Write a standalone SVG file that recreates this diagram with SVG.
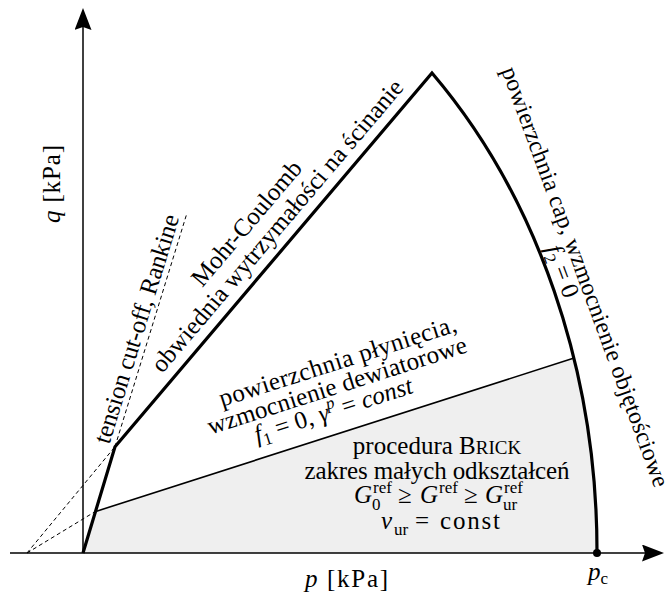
<svg xmlns="http://www.w3.org/2000/svg" width="668" height="602" viewBox="0 0 668 602" font-family="Liberation Serif, serif">
<style>
text{font-family:'Liberation Serif','DejaVu Serif',serif;font-size:25px;fill:#000}
.it{font-style:italic}
.sc{font-size:17px}
.ax{stroke:#000;stroke-width:1.5;fill:none}
.thick{stroke:#000;stroke-width:3.2;fill:none;stroke-linejoin:miter}
.thin{stroke:#000;stroke-width:1.6;fill:none}
.dash{stroke:#000;stroke-width:1;fill:none;stroke-dasharray:4 3}
</style>
<defs>
<marker id="arr" markerUnits="userSpaceOnUse" markerWidth="22" markerHeight="18" refX="3" refY="8.5" orient="auto">
<path d="M0,0 L22,8.5 L0,17 L3,8.5 z" fill="#000"/>
</marker>
</defs>
<rect width="668" height="602" fill="#fff"/>
<g id="region">
<path d="M83,553 L95,511.7 L573.3,358.3 A514,652 0 0 1 597,553 Z" fill="#efefef"/>
</g>
<g id="connectors">
<path class="ax" d="M10,553 L645,553" marker-end="url(#arr)"/>
<path class="ax" d="M83,553 L83,27" marker-end="url(#arr)"/>
<path class="dash" d="M27,553 L115,446.7"/>
<path class="dash" d="M27,553 L95,511.7"/>
<path class="dash" d="M115,446.7 L187,213"/>
<path class="thin" d="M95,511.7 L573.3,358.3"/>
<path class="thick" d="M83,553 L115,446.7 L432,73 A514,652 0 0 1 597,553"/>
</g>
<g id="pc">
<circle cx="597" cy="553" r="4" fill="#000"/>
<text x="588" y="580"><tspan class="it">p</tspan><tspan class="sc" dy="4">c</tspan></text>
</g>
<g id="axis-labels">
<text x="305" y="587" textLength="83"><tspan class="it">p</tspan> [kPa]</text>
<text transform="translate(60,184) rotate(-90)" text-anchor="middle" textLength="78"><tspan class="it">q</tspan> [kPa]</text>
</g>
<g id="tension">
<text transform="translate(144.3,331.2) rotate(-72.87)" text-anchor="middle" textLength="238">tension cut-off, Rankine</text>
</g>
<g id="mohr-coulomb">
<text transform="translate(252.8,228.5) rotate(-49.69)" text-anchor="middle" textLength="156">Mohr-Coulomb</text>
<text transform="translate(283.5,231) rotate(-49.69)" text-anchor="middle" textLength="375">obwiednia wytrzymałości na ścinanie</text>
</g>
<g id="yield">
<text transform="translate(340.2,369) rotate(-17.78)" text-anchor="middle" textLength="248">powierzchnia płynięcia,</text>
<text transform="translate(339.5,393.3) rotate(-17.78)" text-anchor="middle" textLength="271">wzmocnienie dewiatorowe</text>
<text transform="translate(335.8,417.7) rotate(-17.78)" text-anchor="middle"><tspan class="it">f</tspan><tspan class="sc" dy="5">1</tspan><tspan dy="-5"> = 0, </tspan><tspan class="it">γ</tspan><tspan class="sc it" dy="-10">p</tspan><tspan dy="10"> = </tspan><tspan class="it">const</tspan></text>
</g>
<g id="cap">
<text transform="translate(578,279.5) rotate(69.86)" text-anchor="middle" style="font-size:24px" textLength="446">powierzchnia cap, wzmocnienie objętościowe</text>
<text transform="translate(555,274) rotate(69.86)" text-anchor="middle"><tspan class="it">f</tspan><tspan class="sc" dy="5">2</tspan><tspan dy="-5"> = 0</tspan></text>
</g>
<g id="brick">
<text x="437" y="454" text-anchor="middle">procedura B<tspan font-size="19">RICK</tspan></text>
<text x="437" y="479" text-anchor="middle" textLength="265">zakres małych odkształceń</text>
<text x="354" y="503" class="it">G</text>
<text x="373" y="493" class="sc">ref</text>
<text x="372" y="510" class="sc">0</text>
<text x="398" y="503">≥</text>
<text x="420" y="503" class="it">G</text>
<text x="439" y="493" class="sc">ref</text>
<text x="464" y="503">≥</text>
<text x="485" y="503" class="it">G</text>
<text x="504" y="493" class="sc">ref</text>
<text x="503" y="510" class="sc">ur</text>
<text x="381" y="529" class="it">ν</text>
<text x="394" y="535" class="sc">ur</text>
<text x="415" y="529">=</text>
<text x="440" y="529" textLength="60">const</text>
</g>
</svg>
